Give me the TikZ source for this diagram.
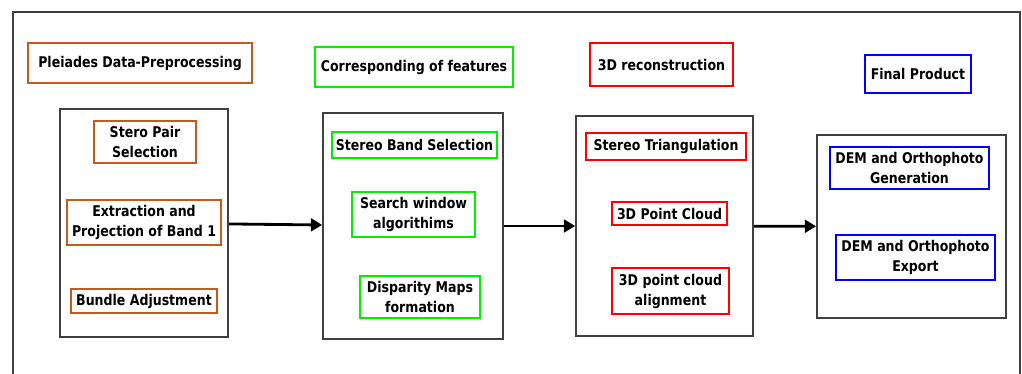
\documentclass[tikz,border=0pt]{standalone}
\usepackage{fontspec}
\setmainfont{DejaVu Sans}[FakeStretch=0.85]
\usetikzlibrary{arrows.meta,positioning}
\definecolor{brick}{RGB}{197,90,30}
\definecolor{lime}{RGB}{0,240,0}
\definecolor{frame}{RGB}{64,64,64}

\begin{document}
\begin{tikzpicture}[x=0.025cm, y=-0.025cm,
    font=\fontsize{10.5}{14.2}\selectfont\bfseries,
    sz/.style 2 args={minimum width=#1*0.025cm, minimum height=#2*0.025cm, inner sep=0pt, align=center},
    stage/.style={draw=#1, line width=2pt},
    item/.style={draw=#1, line width=1.2pt},
    group/.style={draw=frame, line width=1.2pt},
    flow/.style={-{Triangle[length=8pt, width=9pt]}, line width=2pt, black}]
    \useasboundingbox (0,0) rectangle (1022,374);
    % outer frame, open at the bottom
    \draw[frame, line width=1.3pt] (13,374) |- (1020,12) -- (1020,374);
    % stage titles
    \node[stage=brick, sz={224}{40}] (pretitle) at (140,63) {Pleiades Data-Preprocessing};
    \node[stage=lime, sz={198}{40}] (matchtitle) at (414,67) {Corresponding of features};
    \node[stage=red, sz={143}{43}] (recontitle) at (661.5,64.5) {3D reconstruction};
    \node[stage=blue, sz={106}{38}] (finaltitle) at (918,74) {Final Product};
    % group boxes
    \node[group, sz={168}{228}] (pre) at (144,223) {};
    \node[group, sz={180}{226}] (match) at (413,226) {};
    \node[group, sz={177}{220}] (recon) at (664.5,226) {};
    \node[group, sz={189}{183}] (final) at (911.5,226.5) {};
    % pre-processing steps
    \node[item=brick, sz={102}{42}] (pair) at (145,142) {Stero Pair\\Selection};
    \node[item=brick, sz={154}{45}] (band) at (144,222.5) {Extraction and\\Projection of Band 1};
    \node[item=brick, sz={146}{24}] (bundle) at (144,301) {Bundle Adjustment};
    % matching steps
    \node[item=lime, sz={165}{26}] (bandsel) at (414.5,145) {Stereo Band Selection};
    \node[item=lime, sz={123}{45}] (window) at (413.5,214.5) {Search window\\algorithims};
    \node[item=lime, sz={120}{42}] (disparity) at (420,297) {Disparity Maps\\formation};
    % reconstruction steps
    \node[item=red, sz={160}{27}] (triang) at (666,146.5) {Stereo Triangulation};
    \node[item=red, sz={115}{23}] (cloud) at (669.5,213.5) {3D Point Cloud};
    \node[item=red, sz={117}{46}] (align) at (670.5,291) {3D point cloud\\alignment};
    % final products
    \node[item=blue, sz={159}{42}] (demgen) at (909.5,168) {DEM and Orthophoto\\Generation};
    \node[item=blue, sz={159}{45}] (demexp) at (915.5,257.5) {DEM and Orthophoto\\Export};
    % flow between stages
    \draw[flow] (pre) -- (match);
    \draw[flow] (match) -- (recon);
    \draw[flow] (recon) -- (final);
\end{tikzpicture}
\end{document}
